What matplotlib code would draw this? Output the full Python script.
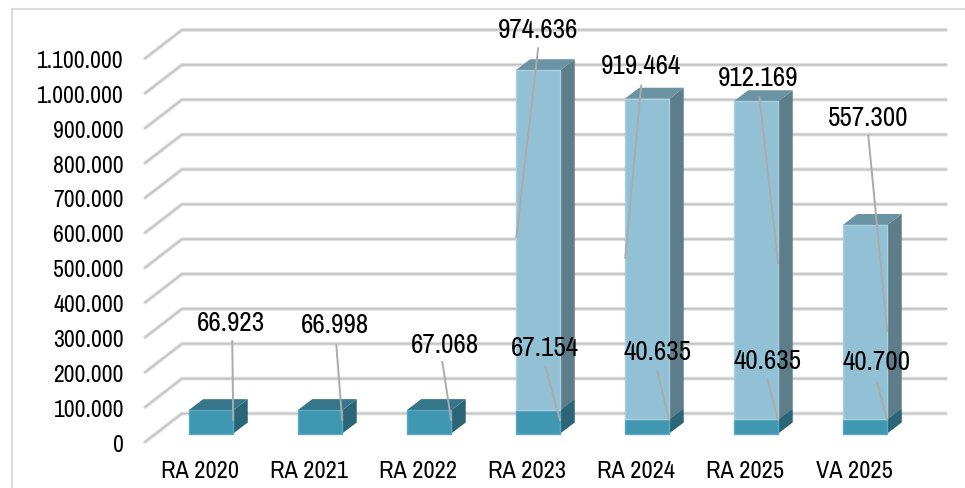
import matplotlib
matplotlib.use("Agg")
import matplotlib.pyplot as plt

CATEGORIES = ["RA 2020", "RA 2021", "RA 2022", "RA 2023", "RA 2024", "RA 2025", "VA 2025"]
BOTTOM = [66923, 66998, 67068, 67154, 40635, 40635, 40700]
TOP = [0, 0, 0, 974636, 919464, 912169, 557300]
Y_TICKS = [0, 100000, 200000, 300000, 400000, 500000, 600000, 700000, 800000, 900000, 1000000, 1100000]

# label layout, pixels relative to the bar segment's front right top corner
BOTTOM_LABEL_OFFSET = [(-2, 89), (-7, 87), (-6, 67), (-15, 64), (-12, 69), (-11, 60), (-11, 59)]
BOTTOM_LEADER_START = [(-1, 70), (-6, 66), (-9, 49), (-15, 44), (-12, 49), (-11, 41), (-10, 37)]
TOP_LABEL_OFFSET = [None, None, None, (-22, 42), (-28, 35), (-20, 25), (-19, 109)]
TOP_LEADER_START = [None, None, None, (-22, 23), (-28, 14), (-19, 5), (-19, 90)]
TOP_LEADER_END = [None, None, None, (-44, -168), (-44, -160), (0, -163), (0, -107)]

PX_X = 1 / 109
PX_Y = 1000 / 0.3487
W, H = 965, 488
X0, Y0 = 211, 433.5
BAR_W = 44.5 * PX_X
DEPTH_X = 14.5 * PX_X
DEPTH_Y = 11 * PX_Y

plt.rcParams["font.family"] = ["Archivo Narrow", "Roboto Condensed", "Liberation Sans", "DejaVu Sans"]


def draw_segment(ax, i, low, high, front, top, side, edge):
    l = i - BAR_W / 2
    r = i + BAR_W / 2
    ax.fill([r, r + DEPTH_X, r + DEPTH_X, r], [low, low + DEPTH_Y, high + DEPTH_Y, high], color=side, lw=0, zorder=3)
    ax.fill([l, r, r + DEPTH_X, l + DEPTH_X], [high, high, high + DEPTH_Y, high + DEPTH_Y], color=top, lw=0, zorder=3)
    ax.fill([l, r, r, l], [low, low, high, high], facecolor=front, edgecolor=edge, lw=1, zorder=3)


def leader(ax, x, y, start, end):
    ax.plot([x + start[0] * PX_X, x + end[0] * PX_X], [y + start[1] * PX_Y, y + end[1] * PX_Y],
            color="#ababab", lw=1.4, zorder=4, solid_capstyle="butt")


def main():
    fig = plt.figure(figsize=(W / 100, H / 100), dpi=100)
    ax = fig.add_axes([0, 0, 1, 1])
    ax.set_xlim(-X0 * PX_X, (W - X0) * PX_X)
    ax.set_ylim((Y0 - H) * PX_Y, Y0 * PX_Y)
    ax.axis("off")

    # chart frame
    ax.plot([(12 - X0) * PX_X] * 2, [(Y0 - H) * PX_Y, (Y0 - 9) * PX_Y], color="#dcdcdc", lw=1.5)
    ax.plot([(12 - X0) * PX_X, (W - X0) * PX_X], [(Y0 - 9) * PX_Y] * 2, color="#dcdcdc", lw=1.5)

    # gridlines: floor depth then back wall
    x_front = (145 - X0) * PX_X
    x_back = (182 - X0) * PX_X
    x_right = (946 - X0) * PX_X
    y_front = -8.5 * PX_Y
    y_back = 20 * PX_Y
    for t in Y_TICKS:
        xs = [x_front, x_back, x_right]
        ys = [t + y_front, t + y_back, t + y_back]
        ax.plot(xs, ys, color="#e2e2e2", lw=2.8, zorder=1, solid_capstyle="round", solid_joinstyle="round")
        ax.plot(xs, ys, color="#c4c4c4", lw=1.2, zorder=1, solid_capstyle="round", solid_joinstyle="round")
        ax.text((124 - X0) * PX_X, t + y_front - 1 * PX_Y, f"{t:,}".replace(",", "."), ha="right",
                va="center_baseline", fontsize=17, color="black")

    for i, name in enumerate(CATEGORIES):
        draw_segment(ax, i, 0, BOTTOM[i], "#4097b2", "#357689", "#2a6677", "#5aa9c2")
        if TOP[i]:
            draw_segment(ax, i, BOTTOM[i], BOTTOM[i] + TOP[i], "#92c1d5", "#6a93a4", "#5d7d8a", "#a9d0df")
        ax.text(i - 11 * PX_X, -36 * PX_Y, name, ha="center", va="center_baseline", fontsize=17.5, color="black", zorder=6)

    for i in range(len(CATEGORIES)):
        r = i + BAR_W / 2
        leader(ax, r, BOTTOM[i], BOTTOM_LEADER_START[i], (0, -BOTTOM[i] / PX_Y + 12.5))
        dx, dy = BOTTOM_LABEL_OFFSET[i]
        ax.text(r + dx * PX_X, BOTTOM[i] + dy * PX_Y, f"{BOTTOM[i]:,}".replace(",", "."), ha="center",
                va="center_baseline", fontsize=19.5, color="black", zorder=6)
        if TOP[i]:
            total = BOTTOM[i] + TOP[i]
            leader(ax, r, total, TOP_LEADER_START[i], TOP_LEADER_END[i])
            dx, dy = TOP_LABEL_OFFSET[i]
            ax.text(r + dx * PX_X, total + dy * PX_Y, f"{TOP[i]:,}".replace(",", "."), ha="center",
                    va="center_baseline", fontsize=19.5, color="black", zorder=6)

    fig.savefig("out.png", dpi=100)


if __name__ == "__main__":
    main()
